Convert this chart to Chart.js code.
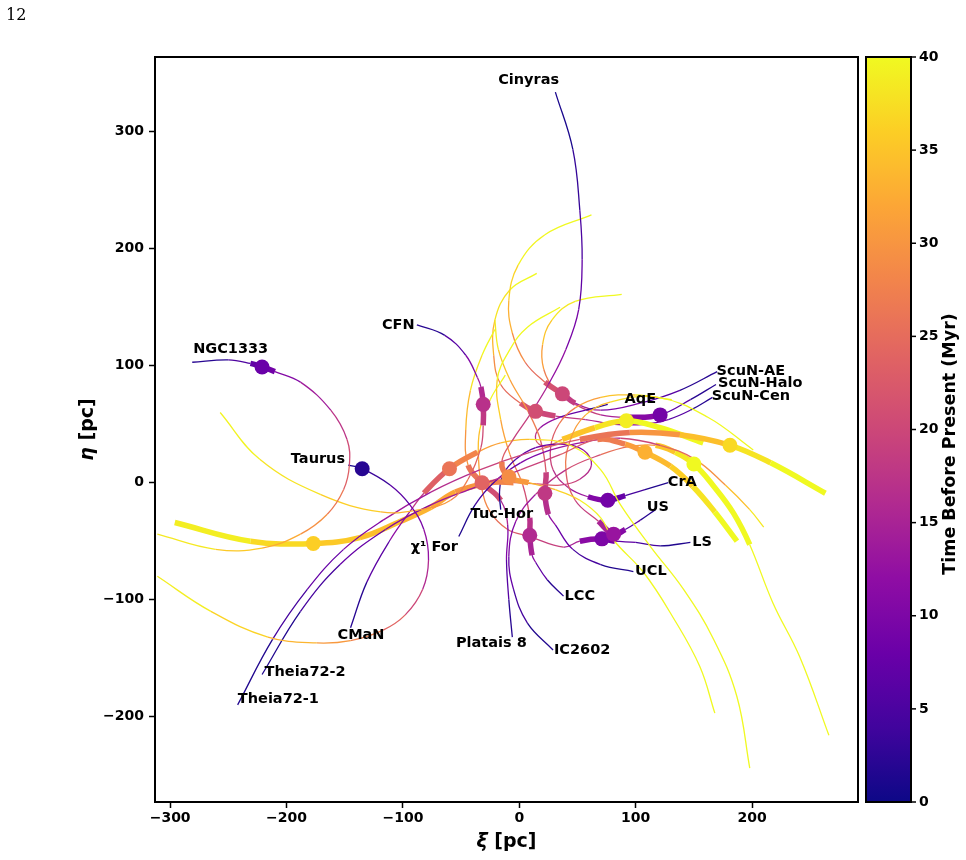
<!DOCTYPE html>
<html>
<head>
<meta charset="utf-8">
<script src="https://cdn.jsdelivr.net/npm/chart.js@4.4.0/dist/chart.umd.min.js"></script>
<style>
  html, body { margin: 0; padding: 0; background: #fff; }
  #wrap { width: 966px; height: 860px; }
</style>
</head>
<body>
<div id="wrap"><canvas id="mycanvas" width="966" height="860"></canvas></div>
<script>
// each point: [xi (pc), eta (pc), time before present (Myr)]
var NGC1333 = [[-281,103,0],[-250,105,4],[-231,102,6.5],[-221,99,8],[-210,95,9.5],[-188,86,12],[-162,62,16],[-148,37,19],[-146,15,22],[-151,-6,25],[-165,-27,28],[-188,-44,31],[-221,-56,34],[-261,-57,37],[-311,-44,40]];
var Taurus = [[-147,15,0],[-135,12,2],[-111,-2,5],[-94,-19,8],[-82,-40,11],[-78,-66,14],[-83,-91,18],[-98,-113,22],[-117,-126,26],[-145,-135,29],[-174,-137,32],[-216,-132,35],[-265,-110,38],[-311,-80,40]];
var CFN = [[-88,135,0],[-64,126,4],[-46,109,8],[-36,90,13],[-33,82,15],[-31,67,17],[-31,49,19],[-33,30,22],[-44,3,26],[-59,-15,29],[-85,-23,32],[-119,-25,35],[-171,-10,37],[-223,20,39],[-257,60,40]];
var Cinyras = [[31,334,0],[46,285,2],[52,233,4],[54,191,6],[51,148,8],[40,114,11],[25,84,14],[9,58,17],[-6,36,21],[-15,18,25],[-9,5,29],[8,0,32],[31,-6,35],[52,-15,38],[70,-30,41],[81,-49,44],[107,-77,48],[132,-115,52],[155,-157,56],[168,-197,61]];
var Theia72_1 = [[-242,-190,0],[-212,-134,3],[-182,-91,6],[-151,-57,9],[-117,-32,12],[-76,-8,15],[-34,11,18],[9,26,21],[52,37,24],[95,43,28],[138,41,32],[181,32,37],[216,17,39],[263,-9,42]];
var Theia72_2 = [[-221,-164,0],[-188,-110,3],[-154,-70,6],[-115,-40,9],[-76,-19,12],[-38,-4,15],[1,11,18],[35,24,21],[67,37,25],[91,33,29],[108,26,33],[130,14,35],[149,-3,37],[168,-25,39],[187,-50,41]];
var CMaN = [[-145,-124,0],[-131,-85,4],[-111,-49,9],[-92,-22,15],[-82,-9,21],[-60,12,26],[-36,26,30],[-16,34,33],[9,37,36],[44,32,39],[70,11,42],[87,-19,45],[113,-55,49],[141,-91,52],[167,-134,55],[187,-183,58],[198,-244,62]];
var Chi1For = [[-52,-46,0],[-38,-19,3],[-21,1,6],[1,17,9],[27,28,12],[57,35,15],[87,38,18],[121,32,22],[151,20,27],[177,-2,32],[198,-23,37],[210,-38,40]];
var TucHor = [[-16,-23,0],[-17,-8,2],[-14,7,4],[-3,20,6],[14,30,8],[35,33,10],[55,28,12],[62,15,15],[52,3,18],[35,-2,21],[15,-1,24],[-5,0,27],[-25,0,29],[-55,-8,31],[-76,-21,33],[-102,-33,34],[-137,-47,35],[-177,-52,36],[-231,-50,38],[-296,-34,40]];
var Platais8 = [[-6,-132,0],[-9,-100,4],[-11,-66,8],[-10,-36,13],[-16,-15,18],[-32,0,24],[-44,15,28],[-46,45,32],[-42,79,36],[-32,109,40],[-21,131,43]];
var IC2602 = [[29,-143,0],[7,-120,3],[-5,-91,6],[-9,-63,9],[-3,-33,12],[14,-10,15],[40,11,19],[70,24,23],[95,31,28],[117,32,33],[134,26,37],[150,16,40],[167,-3,42],[184,-26,44],[198,-53,46],[218,-103,50],[241,-149,54],[266,-216,60]];
var LCC = [[38,-97,0],[24,-83,4],[14,-68,10],[11,-62,14],[9,-45,16],[9,-30,18],[3,-2,24],[-8,24,29],[-16,54,34],[-19,88,38],[-8,114,42],[7,133,45],[35,150,48]];
var UCL = [[98,-76,0],[70,-70,3],[46,-57,6],[31,-36,10],[25,-27,15],[22,-9,18],[23,9,20],[18,37,25],[7,62,29],[-8,88,33],[-18,114,37],[-21,139,41]];
var LS = [[147,-51,0],[121,-54,3],[100,-51,6],[82,-50,8],[71,-48,10],[52,-50,13],[38,-55,17],[9,-46,21],[-10,-40,24],[-25,-25,27],[-32,-6,30],[-35,20,33],[-34,45,36],[-25,71,39],[-12,92,42]];
var US = [[117,-23,0],[104,-32,4],[91,-40,9],[81,-44,13],[68,-33,17],[48,-15,21],[40,11,25],[44,37,29],[57,58,33],[78,69,36],[119,73,39],[162,56,42],[201,28,45]];
var CrA = [[128,0,0],[108,-6,3],[91,-11,6],[76,-15,9],[59,-12,12],[42,-4,15],[29,11,18],[27,31,21],[34,50,25],[48,64,29],[70,73,33],[100,75,37],[131,71,41]];
var AqE = [[76,67,0],[57,62,5],[35,56,10],[18,47,15],[14,37,20],[22,31,26],[37,37,33],[65,47,37],[92,53,39],[121,47,41],[158,34,43]];
var ScuN_AE = [[170,95,0],[138,79,4],[104,68,8],[70,62,12],[48,68,17],[37,76,20],[22,86,23],[5,103,27],[-6,128,31],[-9,156,35],[-1,186,38],[22,212,41],[62,229,44]];
var ScuN_Halo = [[169,84,0],[147,71,4],[121,58,9],[95,56,13],[70,58,17],[48,67,21],[31,79,25],[21,97,29],[20,118,33],[28,139,37],[48,155,40],[88,161,43]];
var ScuN_Cen = [[166,73,0],[147,62,4],[128,54,8],[108,50,11],[82,50,14],[57,54,17],[31,57,19],[14,61,21],[1,68,23],[-16,84,27],[-22,109,31],[-21,139,36],[-8,165,40],[15,179,44]];

var groupNames = ['NGC1333','Taurus','CFN','Cinyras','Theia72-1','Theia72-2','CMaN','\u03c7\u00b9 For','Tuc-Hor','Platais 8','IC2602','LCC','UCL','LS','US','CrA','AqE','ScuN-AE','ScuN-Halo','ScuN-Cen'];
var groupPaths = [NGC1333, Taurus, CFN, Cinyras, Theia72_1, Theia72_2, CMaN, Chi1For, TucHor, Platais8, IC2602, LCC, UCL, LS, US, CrA, AqE, ScuN_AE, ScuN_Halo, ScuN_Cen];
// birth time (Myr) where the dot sits, and the time span drawn thick
var groupAges = [8, 2, 17, 29, 37, 33, 26, null, 36, 24, 40, 16, 18, 10, 13, 9, 39, 20, 9, 21];
var thickRanges = [[6.5,9.5], null, [15,19], [25,32], [26,42], [25,41], [21,30], null, [26,40], [21,27], [35,47], [14,18], [15,20], [8,12], [10,16], [7,11], [34,44], [16,23], [7,12], [19,23]];
// label centres in (xi, eta)
var labelPos = [[-248,114],[-173,20],[-104,135],[8,344],[-207,-185],[-184,-162],[-136,-130],[-73,-55],[-15,-27],[-24,-137],[54,-143],[52,-97],[113,-76],[157,-51],[119,-21],[140,0],[104,71],[199,95],[207,85],[199,74]];

var xTicks = [-300, -200, -100, 0, 100, 200];
var yTicks = [-200, -100, 0, 100, 200, 300];
var timeTicks = [0, 5, 10, 15, 20, 25, 30, 35, 40];
var timeMax = 40;

var plasmaStops = ['#0d0887','#41049d','#6a00a8','#8f0da4','#b12a90','#cc4778','#e16462','#f2844b','#fca636','#fcce25','#f0f921'];
function hexRgb(h) {
	return [parseInt(h.substr(1,2),16), parseInt(h.substr(3,2),16), parseInt(h.substr(5,2),16)];
}
function plasma(f) {
	f = Math.max(0, Math.min(1, f));
	var s = f * 10;
	var i = Math.min(9, Math.floor(s));
	var u = s - i;
	var a = hexRgb(plasmaStops[i]), b = hexRgb(plasmaStops[i+1]);
	return 'rgb(' + Math.round(a[0]+(b[0]-a[0])*u) + ',' + Math.round(a[1]+(b[1]-a[1])*u) + ',' + Math.round(a[2]+(b[2]-a[2])*u) + ')';
}
function timeColor(t) {
	return plasma(Math.min(t, timeMax) / timeMax);
}

var FONT = '"DejaVu Sans", Verdana, sans-serif';

var datasets = [];
var circlePts = [];
var circleCols = [];
for (var i = 0; i < groupPaths.length; i++) {
	if (groupAges[i] === null) continue;
	for (var k = 0; k < groupPaths[i].length; k++) {
		if (groupPaths[i][k][2] === groupAges[i]) {
			circlePts.push({x: groupPaths[i][k][0], y: groupPaths[i][k][1]});
			circleCols.push(timeColor(groupAges[i]));
		}
	}
}
datasets.push({
	label: 'birth',
	data: circlePts,
	showLine: false,
	pointRadius: 7.5,
	pointHoverRadius: 7.5,
	pointBackgroundColor: circleCols,
	pointBorderWidth: 0,
	order: 0
});

function segTime(ctx) {
	var d = ctx.chart.data.datasets[ctx.datasetIndex].data;
	return (d[ctx.p0DataIndex].t + d[ctx.p1DataIndex].t) / 2;
}

groupPaths.forEach(function(path, i) {
	datasets.push({
		label: groupNames[i],
		data: path.map(function(p) { return {x: p[0], y: p[1], t: p[2]}; }),
		showLine: true,
		pointRadius: 0,
		pointHoverRadius: 0,
		tension: 0.4,
		borderWidth: 1.3,
		borderColor: timeColor(0),
		order: 1,
		segment: {
			borderColor: function(ctx) { return timeColor(segTime(ctx)); },
			borderWidth: function(ctx) {
				var r = thickRanges[ctx.datasetIndex - 1];
				var t = segTime(ctx);
				return (r && t >= r[0] && t <= r[1]) ? 5.5 : 1.3;
			}
		}
	});
});

var decor = {
	id: 'decor',
	afterDatasetsDraw: function(chart) {
		var ctx = chart.ctx;
		var a = chart.chartArea;
		var xs = chart.scales.x, ys = chart.scales.y;
		ctx.save();

		// group labels
		ctx.fillStyle = '#000';
		ctx.font = 'bold 14.5px ' + FONT;
		ctx.textAlign = 'center';
		ctx.textBaseline = 'middle';
		for (var i = 0; i < groupNames.length; i++) {
			ctx.fillText(groupNames[i], xs.getPixelForValue(labelPos[i][0]), ys.getPixelForValue(labelPos[i][1]));
		}

		// frame
		ctx.strokeStyle = '#000';
		ctx.lineWidth = 2;
		ctx.strokeRect(a.left, a.top, a.right - a.left, a.bottom - a.top);

		// axis titles
		function mixedTitle(greek, rest, x, y, rot) {
			ctx.save();
			ctx.translate(x, y);
			ctx.rotate(rot);
			ctx.font = 'italic bold 19px ' + FONT;
			var w1 = ctx.measureText(greek).width;
			ctx.font = 'bold 19px ' + FONT;
			var w2 = ctx.measureText(rest).width;
			var x0 = -(w1 + w2) / 2;
			ctx.textAlign = 'left';
			ctx.textBaseline = 'middle';
			ctx.font = 'italic bold 19px ' + FONT;
			ctx.fillText(greek, x0, 0);
			ctx.font = 'bold 19px ' + FONT;
			ctx.fillText(rest, x0 + w1, 0);
			ctx.restore();
		}
		mixedTitle('\u03be', ' [pc]', (a.left + a.right) / 2, 842, 0);
		mixedTitle('\u03b7', ' [pc]', 88, (a.top + a.bottom) / 2, -Math.PI / 2);

		// colour bar
		var cbL = a.right + 8, cbW = 45;
		var g = ctx.createLinearGradient(0, a.bottom, 0, a.top);
		for (var s = 0; s <= 20; s++) g.addColorStop(s / 20, plasma(s / 20));
		ctx.fillStyle = g;
		ctx.fillRect(cbL, a.top, cbW, a.bottom - a.top);
		ctx.strokeStyle = '#000';
		ctx.lineWidth = 2;
		ctx.strokeRect(cbL, a.top, cbW, a.bottom - a.top);
		ctx.fillStyle = '#000';
		ctx.font = 'bold 14px ' + FONT;
		ctx.textAlign = 'left';
		ctx.textBaseline = 'middle';
		ctx.lineWidth = 1.5;
		timeTicks.forEach(function(v) {
			var y = a.bottom - v / timeMax * (a.bottom - a.top);
			ctx.beginPath();
			ctx.moveTo(cbL + cbW, y);
			ctx.lineTo(cbL + cbW + 5, y);
			ctx.stroke();
			ctx.fillText(String(v), cbL + cbW + 8, y);
		});
		ctx.save();
		ctx.translate(950, 444);
		ctx.rotate(-Math.PI / 2);
		ctx.textAlign = 'center';
		ctx.font = 'bold 17.5px ' + FONT;
		ctx.fillText('Time Before Present (Myr)', 0, 0);
		ctx.restore();

		// page number
		ctx.font = '16px "DejaVu Serif", "Liberation Serif", serif';
		ctx.textAlign = 'left';
		ctx.textBaseline = 'alphabetic';
		ctx.fillText('12', 6, 20);

		ctx.restore();
	}
};

var tickFont = {family: FONT, size: 14, weight: 'bold'};
function minusFmt(v) { return String(v).replace('-', '\u2212'); }

var myChart = new Chart(document.getElementById('mycanvas'), {
	type: 'scatter',
	data: { datasets: datasets },
	options: {
		responsive: false,
		animation: false,
		events: [],
		layout: { autoPadding: false, padding: { top: 57, right: 108, left: 0, bottom: 0 } },
		plugins: { legend: { display: false }, tooltip: { enabled: false } },
		scales: {
			x: {
				type: 'linear', min: -313, max: 291,
				afterBuildTicks: function(s) { s.ticks = xTicks.map(function(v) { return {value: v}; }); },
				afterFit: function(s) { s.height = 58; },
				grid: { drawOnChartArea: false, tickLength: 6, tickWidth: 1.5, tickColor: '#000' },
				border: { display: false },
				ticks: { color: '#000', font: tickFont, padding: 2, maxRotation: 0, callback: minusFmt }
			},
			y: {
				type: 'linear', min: -273, max: 364,
				afterBuildTicks: function(s) { s.ticks = yTicks.map(function(v) { return {value: v}; }); },
				afterFit: function(s) { s.width = 155; },
				grid: { drawOnChartArea: false, tickLength: 6, tickWidth: 1.5, tickColor: '#000' },
				border: { display: false },
				ticks: { color: '#000', font: tickFont, padding: 5, callback: minusFmt }
			}
		}
	},
	plugins: [decor]
});
</script>
</body>
</html>
